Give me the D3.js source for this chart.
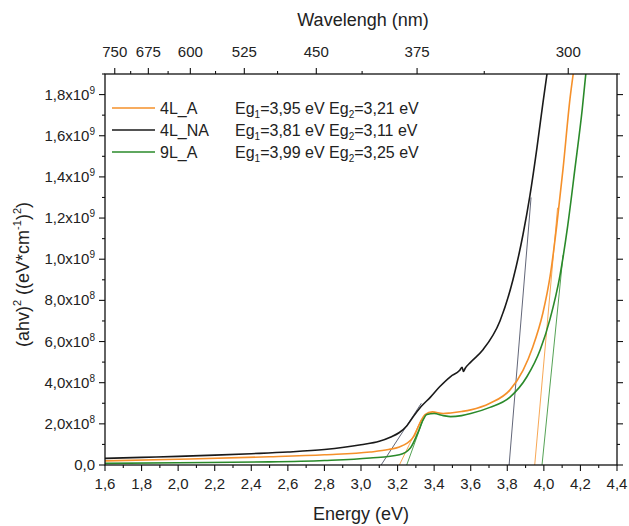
<!DOCTYPE html>
<html><head><meta charset="utf-8">
<script src="https://cdn.jsdelivr.net/npm/d3@7"></script>
<style>body{margin:0;background:#fff}svg{display:block;font-family:"Liberation Sans",Arial,sans-serif}</style>
</head><body><svg id="c" width="629" height="526"></svg>
<script>
// ---- data ----
const seriesNames = ["4L_A", "4L_NA", "9L_A"];
const legendEg1 = ["3,95", "3,81", "3,99"];
const legendEg2 = ["3,21", "3,11", "3,25"];
const seriesColors = ["#f5902a", "#1a1a1a", "#2a8a2a"];

const energyA = [1.6, 2.0, 2.5, 2.8, 3.05, 3.15, 3.21, 3.25, 3.29, 3.32, 3.35, 3.39, 3.45, 3.49, 3.55, 3.6, 3.705, 3.815, 3.886, 3.94, 3.995, 4.034, 4.07, 4.105, 4.143, 4.17];
const valueA  = [0.02, 0.028, 0.04, 0.05, 0.063, 0.075, 0.088, 0.105, 0.14, 0.20, 0.245, 0.258, 0.25, 0.253, 0.26, 0.268, 0.30, 0.365, 0.46, 0.575, 0.74, 0.916, 1.16, 1.44, 1.78, 1.96];

const energyNA = [1.6, 1.8, 2.0, 2.2, 2.4, 2.6, 2.8, 3.0, 3.1, 3.16, 3.21, 3.25, 3.29, 3.33, 3.38, 3.43, 3.49, 3.54, 3.553, 3.56, 3.57, 3.6, 3.667, 3.76, 3.831, 3.886, 3.924, 3.962, 3.995, 4.025];
const valueNA  = [0.032, 0.037, 0.042, 0.048, 0.055, 0.063, 0.075, 0.098, 0.115, 0.135, 0.158, 0.19, 0.24, 0.285, 0.33, 0.38, 0.43, 0.46, 0.475, 0.455, 0.47, 0.50, 0.56, 0.70, 0.90, 1.12, 1.31, 1.54, 1.76, 1.95];

const energy9 = [1.6, 2.0, 2.5, 2.8, 3.05, 3.21, 3.27, 3.31, 3.34, 3.36, 3.40, 3.45, 3.49, 3.55, 3.6, 3.705, 3.815, 3.908, 3.98, 4.034, 4.088, 4.13, 4.17, 4.21, 4.235];
const value9  = [0.008, 0.011, 0.015, 0.022, 0.034, 0.05, 0.083, 0.155, 0.22, 0.245, 0.25, 0.24, 0.235, 0.24, 0.25, 0.28, 0.33, 0.43, 0.56, 0.71, 0.92, 1.16, 1.44, 1.73, 1.95];

// tangent (fit) lines: [E start, v start, E end, v end] (values in 1e9)
const fitA  = [[3.95, 0, 4.075, 1.25], [3.21, 0, 3.33, 0.22]];
const fitNA = [[3.81, 0, 3.93, 1.30], [3.11, 0, 3.33, 0.30]];
const fit9  = [[3.99, 0, 4.105, 1.02], [3.25, 0, 3.34, 0.22]];

const xTicks = [1.6, 1.8, 2.0, 2.2, 2.4, 2.6, 2.8, 3.0, 3.2, 3.4, 3.6, 3.8, 4.0, 4.2, 4.4];
const yTicks = [0, 0.2, 0.4, 0.6, 0.8, 1.0, 1.2, 1.4, 1.6, 1.8];
const waveTicks = [750, 675, 600, 525, 450, 375, 300];
const waveMinor = [712.5, 637.5, 562.5, 487.5, 412.5, 337.5];

// ---- chart ----
const svg = d3.select("#c");
const L = 105, R = 617, T = 74, B = 465;
const x = d3.scaleLinear().domain([1.6, 4.4]).range([L, R]);
const y = d3.scaleLinear().domain([0, 1.9]).range([B, T]);

svg.append("defs").append("clipPath").attr("id", "clip")
  .append("rect").attr("x", L).attr("y", T).attr("width", R - L).attr("height", B - T);

const g = svg.append("g").attr("clip-path", "url(#clip)");
const line = d3.line().x(d => x(d[0])).y(d => y(d[1])).curve(d3.curveMonotoneX);

const series = [
  {E: energyA, v: valueA, fits: fitA},
  {E: energyNA, v: valueNA, fits: fitNA},
  {E: energy9, v: value9, fits: fit9}
];
series.forEach((s, i) => {
  s.fits.forEach(f => {
    g.append("line").attr("x1", x(f[0])).attr("y1", y(f[1])).attr("x2", x(f[2])).attr("y2", y(f[3]))
      .attr("stroke", i === 1 ? "#3a3f55" : seriesColors[i]).attr("stroke-width", 0.8);
  });
});
[0, 2, 1].forEach(i => {
  const s = series[i];
  g.append("path").datum(s.E.map((e, k) => [e, s.v[k]]))
    .attr("d", line).attr("fill", "none").attr("stroke", seriesColors[i]).attr("stroke-width", 1.6);
});

// frame
svg.append("rect").attr("x", L).attr("y", T).attr("width", R - L).attr("height", B - T)
  .attr("fill", "none").attr("stroke", "#111").attr("stroke-width", 1.3);

// axes
const fmtComma = v => v.toFixed(1).replace(".", ",");
const ax = svg.append("g").attr("stroke", "#111").attr("stroke-width", 1.1);
d3.range(16, 44.5, 1).map(d => d / 10).forEach(v => {
  const major = Math.abs(Math.round(v * 5) - v * 5) < 1e-6;
  ax.append("line").attr("x1", x(v)).attr("x2", x(v)).attr("y1", B).attr("y2", B + (major ? 6 : 3));
});
xTicks.forEach(v => {
  svg.append("text").attr("x", x(v)).attr("y", B + 24).attr("text-anchor", "middle")
    .attr("font-size", 15).attr("fill", "#222").text(fmtComma(v));
});
d3.range(0, 19.5, 1).map(d => d / 10).forEach(v => {
  const major = Math.round(v * 10) % 2 === 0;
  const len = major ? 6 : 3;
  ax.append("line").attr("x1", L - len).attr("x2", L).attr("y1", y(v)).attr("y2", y(v));
  ax.append("line").attr("x1", R).attr("x2", R + len).attr("y1", y(v)).attr("y2", y(v));
});
yTicks.forEach(v => {
  const t = svg.append("text").attr("x", L - 10).attr("y", y(v) + 5).attr("text-anchor", "end")
    .attr("font-size", 15).attr("fill", "#222");
  if (v === 0) { t.text("0,0"); return; }
  let m, e;
  if (v >= 1) { m = v; e = 9; } else { m = v * 10; e = 8; }
  t.append("tspan").text(fmtComma(m) + "x10");
  t.append("tspan").attr("font-size", 10).attr("dy", -6).text(e);
});
waveTicks.forEach(w => {
  const px = x(1240 / w);
  ax.append("line").attr("x1", px).attr("x2", px).attr("y1", T).attr("y2", T - 6);
  svg.append("text").attr("x", px).attr("y", T - 17).attr("text-anchor", "middle")
    .attr("font-size", 15).attr("fill", "#222").text(w);
});
waveMinor.forEach(w => {
  const px = x(1240 / w);
  ax.append("line").attr("x1", px).attr("x2", px).attr("y1", T).attr("y2", T - 3);
});

// titles
svg.append("text").attr("x", (L + R) / 2 + 2).attr("y", 26).attr("text-anchor", "middle")
  .attr("font-size", 18).attr("fill", "#222").text("Wavelengh (nm)");
svg.append("text").attr("x", (L + R) / 2).attr("y", 520).attr("text-anchor", "middle")
  .attr("font-size", 18).attr("fill", "#222").text("Energy (eV)");
const yt = svg.append("text").attr("transform", "translate(29," + ((T + B) / 2 + 5) + ") rotate(-90)")
  .attr("text-anchor", "middle").attr("font-size", 18).attr("fill", "#222");
yt.append("tspan").text("(ahv)");
yt.append("tspan").attr("font-size", 11).attr("dy", -8).text("2");
yt.append("tspan").attr("dy", 8).text(" ((eV*cm");
yt.append("tspan").attr("font-size", 11).attr("dy", -8).text("-1");
yt.append("tspan").attr("dy", 8).text(")");
yt.append("tspan").attr("font-size", 11).attr("dy", -8).text("2");
yt.append("tspan").attr("dy", 8).text(")");

// legend
seriesNames.forEach((n, i) => {
  const ly = 108 + i * 22;
  svg.append("line").attr("x1", 112).attr("x2", 155).attr("y1", ly).attr("y2", ly)
    .attr("stroke", seriesColors[i]).attr("stroke-width", 1.6);
  svg.append("text").attr("x", 160).attr("y", ly + 6).attr("font-size", 16).attr("fill", "#222").text(n);
  const t = svg.append("text").attr("x", 235).attr("y", ly + 6).attr("font-size", 16).attr("fill", "#222");
  t.append("tspan").text("Eg");
  t.append("tspan").attr("font-size", 10).attr("dy", 4).text("1");
  t.append("tspan").attr("dy", -4).text("=" + legendEg1[i] + " eV Eg");
  t.append("tspan").attr("font-size", 10).attr("dy", 4).text("2");
  t.append("tspan").attr("dy", -4).text("=" + legendEg2[i] + " eV");
});
</script></body></html>
